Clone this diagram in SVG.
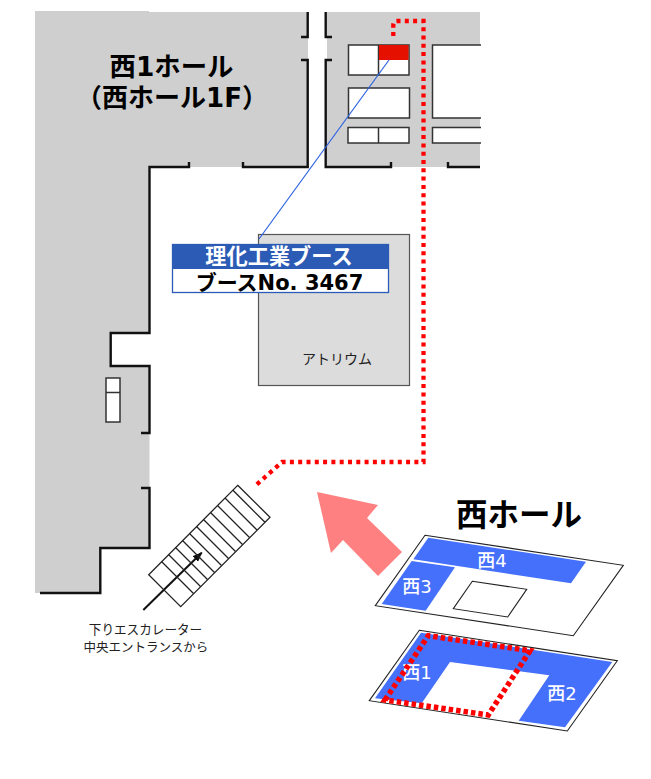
<svg xmlns="http://www.w3.org/2000/svg" width="651" height="779" viewBox="0 0 651 779">
<style>
text{font-family:"DejaVu Sans","Noto Sans CJK JP",sans-serif;text-anchor:middle}
.b{font-weight:700}
.wall{fill:none;stroke:#111;stroke-width:2.400}
.booth{fill:#fff;stroke:#333;stroke-width:1.500}
.plan{fill:#fff;stroke:#222;stroke-width:1.100}
.area{fill:#4570fb}
.route{fill:none;stroke:#f00;stroke-width:4.300;stroke-dasharray:4 4.300}
.routeB{fill:none;stroke:#f00;stroke-width:5.500;stroke-dasharray:4.500 3}
.esc{fill:none;stroke:#222;stroke-width:1.300}
.hl{fill:#fff;font-size:18px;font-weight:500}
</style>
<defs>
<marker id="ah" markerWidth="5" markerHeight="4" refX="4.500" refY="2" orient="auto"><path d="M0 0L5 2L0 4z" fill="#111"/></marker>
</defs>
<g id="west1-hall">
<path d="M35 11H149V12H308V167H149V333H110V366H149.500V548H100V593H35z" fill="#cfcfcf"/>
<path class="wall" d="M307.700 12V37H301M301 60H307.700V167H243V162M189 162V167H149.500V333H110.700V366H149.500V433H141M141 488H149.500V548H100.300V593H40"/>
<g id="west1-booth"><rect class="booth" x="106" y="378" width="14" height="44"/><path class="booth" d="M106 392.500H120"/></g>
<text class="b" x="171.500" y="76" font-size="26.400">西1ホール</text>
<text class="b" x="172" y="107" font-size="26">（西ホール1F）</text>
</g>
<g id="east-block">
<rect x="327" y="12" width="153" height="155" fill="#cfcfcf"/>
<path class="wall" d="M325.700 12V37H332M332 60H325.700V167H391V162M448 162V167H480"/>
<rect class="booth" x="348.500" y="45" width="60.500" height="30"/>
<path class="booth" d="M378.500 45V75"/>
<rect class="booth" x="348.500" y="88" width="61" height="30"/>
<rect class="booth" x="348" y="127.500" width="61" height="15.500"/>
<path class="booth" d="M378.500 127.500V143"/>
<path class="booth" d="M481 45H432.500V118H481"/>
<path class="booth" d="M481 127.500H432.500V143H481"/>
</g>
<g id="target-booth"><rect x="379" y="45" width="29.500" height="15" fill="#e61000"/></g>
<g id="atrium">
<rect x="258.500" y="234.500" width="151" height="151" fill="#dcdcdc" stroke="#555" stroke-width="1.200"/>
<text x="337" y="364" font-size="14" fill="#222">アトリウム</text>
</g>
<g id="connectors">
<path d="M389 60L259 239" fill="none" stroke="#2b62e0" stroke-width="1.200"/>
<path class="route" d="M393.300 36V25Q393.300 21 397 21H423.500V462H282L255 486"/>
<path d="M143.300 610L201.700 552.700" fill="none" stroke="#111" stroke-width="2" marker-end="url(#ah)"/>
</g>
<g id="booth-label">
<rect x="172.500" y="244.500" width="216" height="48" fill="#fff" stroke="#2b5bb5" stroke-width="1.300"/>
<rect x="172" y="244" width="217" height="25" fill="#2b5bb5"/>
<text class="b" x="279" y="264" font-size="21.200" fill="#fff">理化工業ブース</text>
<text class="b" x="279.500" y="290" font-size="21" fill="#000">ブースNo. 3467</text>
</g>
<g id="escalator">
<path class="esc" d="M237.700 485.300L270 517.300L180.700 606.700L148.700 574.700z"/>
<path class="esc" d="M232.700 490L265 522.300M225 498L257 530M217.500 505.500L249.500 537.500M210.500 512.500L242.500 544.500M203.500 519.500L235.500 551.500M196.500 526.500L228.500 558.500M189.500 533.500L221.500 565.500M182.500 540.500L214.500 572.500M175.500 547.500L207.500 579.500M168.500 554.500L200.500 586.500M161.500 561.500L193.500 593.500"/>
<text x="145.500" y="634" font-size="12.600" fill="#222">下りエスカレーター</text>
<text x="146" y="652" font-size="12.500" fill="#222">中央エントランスから</text>
</g>
<g id="big-arrow"><path d="M317 492L378 505L367 518L402 552L378 576L343 540L331 553z" fill="#ff8080"/></g>
<g id="west-hall-map">
<text class="b" x="519" y="526" font-size="31.500" fill="#000">西ホール</text>
<g id="upper-floor">
<path class="plan" d="M425 535.300L623.300 565.300L573.300 635.700L375.300 605.700z"/>
<path class="area" d="M428.300 537.700L586 561.700L571 583.300L413.300 559.300z"/>
<path class="area" d="M411.700 561L455 567.300L425.700 610.700L381.700 604z"/>
<path class="plan" d="M472.300 581.300L526.700 589.300L507.700 617L453.300 608.700z"/>
<text class="hl" x="492" y="567">西4</text>
<text class="hl" x="417" y="593">西3</text>
</g>
<g id="lower-floor">
<path class="plan" d="M419.300 630.300L617.300 660.700L567.300 731L369.300 700.700z"/>
<path class="area" d="M421 632.700L612.300 662L565 727.300L518.700 720.700L549.300 675.300L450 662L421.700 703.300L375 698.300z"/>
<text class="hl" x="417" y="679">西1</text>
<text class="hl" x="562" y="700">西2</text>
<path class="routeB" d="M385 700L428.300 635.700L530 650.700L488.300 715z"/>
</g>
</g>
</svg>
